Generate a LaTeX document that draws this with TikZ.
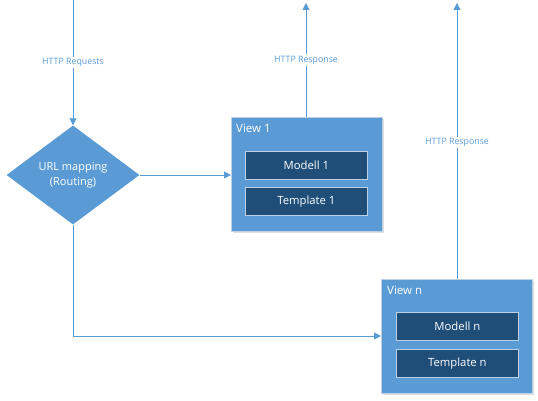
\documentclass[tikz,border=0pt]{standalone}
\usepackage{fontspec}
\setmainfont{Open Sans}
\usetikzlibrary{arrows.meta,shapes.geometric,shadows}
\definecolor{blu}{HTML}{5B9BD5}
\definecolor{dblu}{HTML}{1F4E79}
\definecolor{brd}{HTML}{BDD0E6}
\tikzset{
  x=1pt,y=-1pt,
  conn/.style={draw=blu,line width=0.9pt,-{Triangle[width=7pt,length=7pt]}},
  viewbox/.style={draw=brd,line width=0.8pt,fill=blu,minimum width=151pt,minimum height=114pt,anchor=north west,drop shadow={opacity=0.25,shadow xshift=1.5pt,shadow yshift=-1.5pt}},
  inner/.style={draw=brd,line width=0.8pt,fill=dblu,minimum width=122pt,minimum height=28pt,text=white,font=\fontsize{11.3}{13}\selectfont,anchor=north west},
  lbl/.style={fill=white,text=blu,font=\fontsize{8.8}{10}\selectfont,inner sep=1.5pt},
  vlbl/.style={text=white,font=\fontsize{11.5}{13}\selectfont,anchor=north west,inner sep=0pt},
  dia/.style={diamond,fill=blu,draw=none,minimum width=133pt,minimum height=99pt,aspect=1.34,text=white,font=\fontsize{11}{15}\selectfont,align=center,inner sep=0pt}
}
\begin{document}
\begin{tikzpicture}
\useasboundingbox (0,0) rectangle (538,401);
\coordinate (top) at (73,0);
\coordinate (out1) at (306,3);
\coordinate (outn) at (457,3);
\coordinate (bend) at (73,336);
\node[dia] (map) at (73,175) {URL mapping\\(Routing)};
\node[viewbox] (v1) at (231,117) {};
\node[vlbl] (v1l) at (236,124) {View 1};
\node[inner] (m1) at (245,151) {Modell 1};
\node[inner] (t1) at (245,187) {Template 1};
\node[viewbox] (vn) at (381,279) {};
\node[vlbl] (vnl) at (387,286) {View n};
\node[inner] (mn) at (396,312) {Modell n};
\node[inner] (tn) at (396,349) {Template n};
\draw[conn] (top) -- node[lbl]{HTTP Requests} (map.north);
\draw[conn] (map.east) -- (map.east -| v1.west);
\draw[conn] (map.south) -- (bend) -- (bend -| vn.west);
\draw[conn] (v1.north -| out1) -- node[lbl,pos=0.5]{HTTP Response} (out1);
\draw[conn] (vn.north -| outn) -- node[lbl,pos=0.495]{HTTP Response} (outn);
\end{tikzpicture}
\end{document}
